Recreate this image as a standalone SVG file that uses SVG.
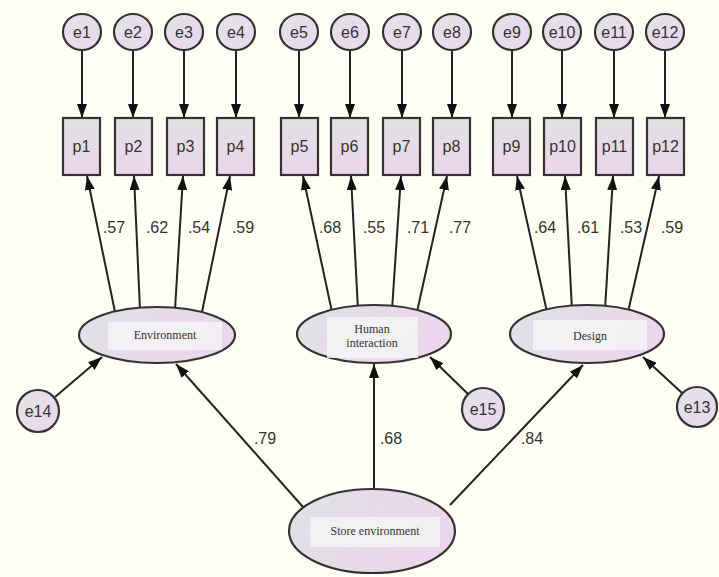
<svg xmlns="http://www.w3.org/2000/svg" width="719" height="577" viewBox="0 0 719 577">
<defs>
<linearGradient id="gE" x1="0" y1="0" x2="1" y2="0.3">
<stop offset="0" stop-color="#dfe2e3"/><stop offset="1" stop-color="#ecd6ec"/>
</linearGradient>
<linearGradient id="gR" x1="0" y1="0" x2="0" y2="1">
<stop offset="0" stop-color="#dfe1e1"/><stop offset="1" stop-color="#ecd5ec"/>
</linearGradient>
<linearGradient id="gC" x1="0" y1="0" x2="1" y2="1">
<stop offset="0" stop-color="#e3e3e6"/><stop offset="1" stop-color="#ead6ee"/>
</linearGradient>
<marker id="ah" viewBox="0 0 14 10" refX="14" refY="5" markerWidth="14" markerHeight="10" markerUnits="userSpaceOnUse" orient="auto">
<path d="M0,0 L14,5 L0,10 z" fill="#111"/>
</marker>
<style>
.c{fill:url(#gC);stroke:#333;stroke-width:2.2}
.r{fill:url(#gR);stroke:#333;stroke-width:2.2}
.el{fill:url(#gE);stroke:#333;stroke-width:2.2}
.in{fill:#f4f4f6;opacity:0.85}
.t{font-family:"Liberation Sans",Arial,sans-serif;font-size:16px;fill:#333;text-anchor:middle}
.s{font-family:"Liberation Serif","Times New Roman",serif;font-size:12px;fill:#333;text-anchor:middle}
.n{font-family:"Liberation Sans",Arial,sans-serif;font-size:16px;fill:#333;text-anchor:middle}
.l{stroke:#222;stroke-width:2;fill:none;marker-end:url(#ah)}
</style>
</defs>
<rect width="719" height="577" fill="#fffef4"/>
<g id="connectors">
<line class="l" x1="82" y1="50" x2="82" y2="118"/>
<line class="l" x1="133" y1="50" x2="133" y2="118"/>
<line class="l" x1="184" y1="50" x2="184" y2="118"/>
<line class="l" x1="236" y1="50" x2="236" y2="118"/>
<line class="l" x1="299" y1="50" x2="299" y2="118"/>
<line class="l" x1="350" y1="50" x2="350" y2="118"/>
<line class="l" x1="402" y1="50" x2="402" y2="118"/>
<line class="l" x1="452" y1="50" x2="452" y2="118"/>
<line class="l" x1="512" y1="50" x2="512" y2="118"/>
<line class="l" x1="562" y1="50" x2="562" y2="118"/>
<line class="l" x1="614" y1="50" x2="614" y2="118"/>
<line class="l" x1="665" y1="50" x2="665" y2="118"/>
<line class="l" x1="115" y1="312" x2="87" y2="176"/>
<line class="l" x1="140" y1="310" x2="134" y2="176"/>
<line class="l" x1="175" y1="310" x2="183" y2="176"/>
<line class="l" x1="202" y1="312" x2="230" y2="176"/>
<line class="l" x1="332" y1="312" x2="303" y2="176"/>
<line class="l" x1="358" y1="310" x2="351" y2="176"/>
<line class="l" x1="392" y1="310" x2="401" y2="176"/>
<line class="l" x1="417" y1="312" x2="447" y2="176"/>
<line class="l" x1="547" y1="312" x2="517" y2="176"/>
<line class="l" x1="572" y1="310" x2="565" y2="176"/>
<line class="l" x1="605" y1="310" x2="613" y2="176"/>
<line class="l" x1="628" y1="312" x2="659" y2="176"/>
<line class="l" x1="303" y1="507" x2="176" y2="364"/>
<line class="l" x1="374" y1="489" x2="374" y2="364"/>
<line class="l" x1="450" y1="505" x2="583" y2="365"/>
<line class="l" x1="55" y1="397" x2="102" y2="357"/>
<line class="l" x1="468" y1="394" x2="430" y2="357"/>
<line class="l" x1="682" y1="393" x2="643" y2="357"/>
<text class="n" x="114" y="233">.57</text>
<text class="n" x="157" y="233">.62</text>
<text class="n" x="199" y="233">.54</text>
<text class="n" x="243" y="233">.59</text>
<text class="n" x="330" y="233">.68</text>
<text class="n" x="374" y="233">.55</text>
<text class="n" x="418" y="233">.71</text>
<text class="n" x="460" y="233">.77</text>
<text class="n" x="545" y="233">.64</text>
<text class="n" x="588" y="233">.61</text>
<text class="n" x="631" y="233">.53</text>
<text class="n" x="672" y="233">.59</text>
<text class="n" x="265" y="444">.79</text>
<text class="n" x="391" y="444">.68</text>
<text class="n" x="532" y="444">.84</text>
</g>
<g id="e1"><ellipse class="c" cx="82" cy="32" rx="19" ry="18"/><text class="t" x="82" y="38">e1</text></g>
<g id="e2"><ellipse class="c" cx="133" cy="32" rx="19" ry="18"/><text class="t" x="133" y="38">e2</text></g>
<g id="e3"><ellipse class="c" cx="184" cy="32" rx="19" ry="18"/><text class="t" x="184" y="38">e3</text></g>
<g id="e4"><ellipse class="c" cx="236" cy="32" rx="19" ry="18"/><text class="t" x="236" y="38">e4</text></g>
<g id="e5"><ellipse class="c" cx="299" cy="32" rx="19" ry="18"/><text class="t" x="299" y="38">e5</text></g>
<g id="e6"><ellipse class="c" cx="350" cy="32" rx="19" ry="18"/><text class="t" x="350" y="38">e6</text></g>
<g id="e7"><ellipse class="c" cx="402" cy="32" rx="19" ry="18"/><text class="t" x="402" y="38">e7</text></g>
<g id="e8"><ellipse class="c" cx="452" cy="32" rx="19" ry="18"/><text class="t" x="452" y="38">e8</text></g>
<g id="e9"><ellipse class="c" cx="512" cy="32" rx="19" ry="18"/><text class="t" x="512" y="38">e9</text></g>
<g id="e10"><ellipse class="c" cx="562" cy="32" rx="19" ry="18"/><text class="t" x="562" y="38">e10</text></g>
<g id="e11"><ellipse class="c" cx="614" cy="32" rx="19" ry="18"/><text class="t" x="614" y="38">e11</text></g>
<g id="e12"><ellipse class="c" cx="665" cy="32" rx="19" ry="18"/><text class="t" x="665" y="38">e12</text></g>
<g id="p1"><rect class="r" x="63" y="118" width="37" height="57"/><text class="t" x="81.5" y="152">p1</text></g>
<g id="p2"><rect class="r" x="115" y="118" width="37" height="57"/><text class="t" x="133.5" y="152">p2</text></g>
<g id="p3"><rect class="r" x="167" y="118" width="37" height="57"/><text class="t" x="185.5" y="152">p3</text></g>
<g id="p4"><rect class="r" x="217" y="118" width="37" height="57"/><text class="t" x="235.5" y="152">p4</text></g>
<g id="p5"><rect class="r" x="281" y="118" width="37" height="57"/><text class="t" x="299.5" y="152">p5</text></g>
<g id="p6"><rect class="r" x="331" y="118" width="37" height="57"/><text class="t" x="349.5" y="152">p6</text></g>
<g id="p7"><rect class="r" x="383" y="118" width="37" height="57"/><text class="t" x="401.5" y="152">p7</text></g>
<g id="p8"><rect class="r" x="433" y="118" width="37" height="57"/><text class="t" x="451.5" y="152">p8</text></g>
<g id="p9"><rect class="r" x="493" y="118" width="37" height="57"/><text class="t" x="511.5" y="152">p9</text></g>
<g id="p10"><rect class="r" x="544" y="118" width="37" height="57"/><text class="t" x="562.5" y="152">p10</text></g>
<g id="p11"><rect class="r" x="596" y="118" width="37" height="57"/><text class="t" x="614.5" y="152">p11</text></g>
<g id="p12"><rect class="r" x="647" y="118" width="37" height="57"/><text class="t" x="665.5" y="152">p12</text></g>
<g id="environment"><ellipse class="el" cx="157" cy="335" rx="78" ry="28"/><rect class="in" x="108" y="322" width="114" height="28"/><text class="s" x="165" y="339">Environment</text></g>
<g id="human"><ellipse class="el" cx="374" cy="334" rx="77" ry="29"/><rect class="in" x="327" y="317" width="91" height="41"/><text class="s" x="372" y="333">Human</text><text class="s" x="372" y="347">interaction</text></g>
<g id="design"><ellipse class="el" cx="587" cy="334" rx="77" ry="29"/><rect class="in" x="533" y="320" width="114" height="30"/><text class="s" x="590" y="340">Design</text></g>
<g id="store"><ellipse class="el" cx="372" cy="531" rx="83" ry="42"/><rect class="in" x="310" y="517" width="130" height="30"/><text class="s" x="375" y="535">Store environment</text></g>
<g id="e14"><circle class="c" cx="38" cy="411" r="21"/><text class="t" x="38" y="417">e14</text></g>
<g id="e15"><circle class="c" cx="483" cy="409" r="21"/><text class="t" x="483" y="415">e15</text></g>
<g id="e13"><circle class="c" cx="697" cy="407" r="20"/><text class="t" x="697" y="413">e13</text></g>
</svg>
